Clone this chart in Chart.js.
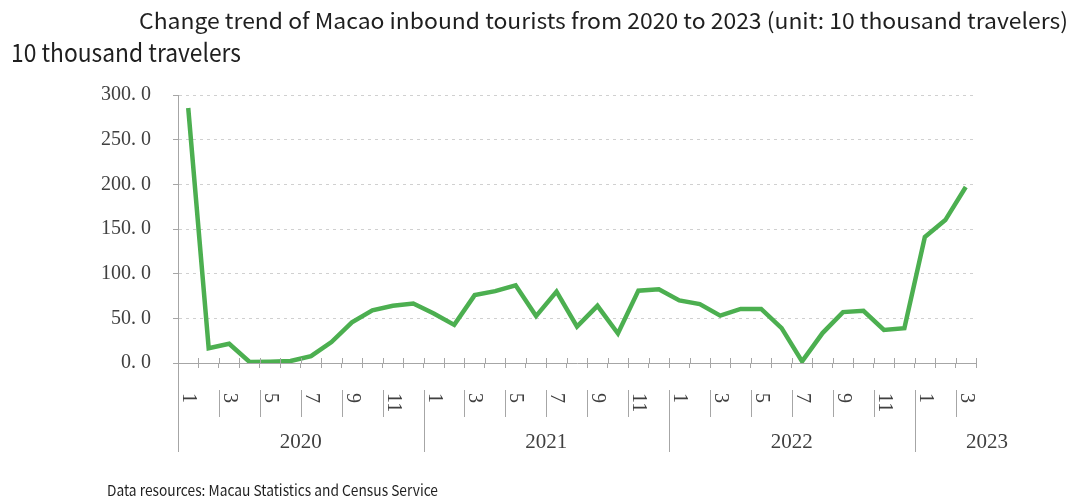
<!DOCTYPE html>
<html>
<head>
<meta charset="utf-8">
<script src="https://cdn.jsdelivr.net/npm/chart.js@4.4.0/dist/chart.umd.min.js"></script>
<style>
html,body{margin:0;padding:0;background:#fff;}
#wrap{position:relative;width:1075px;height:499px;overflow:hidden;background:#fff;}
#c{position:absolute;left:0;top:0;}
.t{position:absolute;left:0;top:0;white-space:nowrap;line-height:1.2;color:#1f1f1f;font-family:"Noto Sans CJK SC","Noto Sans",sans-serif;transform-origin:0 0;}
.m{display:inline-block;width:0;height:0;vertical-align:baseline;}
</style>
</head>
<body>
<div id="wrap">
<canvas id="c" width="1075" height="499"></canvas>
<div class="t" id="title">Change trend of Macao inbound tourists from 2020 to 2023 (unit: 10 thousand travelers)<span class="m"></span></div>
<div class="t" id="unit">10 thousand travelers<span class="m"></span></div>
<div class="t" id="src">Data resources: Macau Statistics and Census Service<span class="m"></span></div>
</div>
<script>
// ---- data ----
const yearLabels = ['2020', '2021', '2022', '2023'];
const monthsInYear = [12, 12, 12, 3];
const monthLabels = [
  '1','2','3','4','5','6','7','8','9','10','11','12',
  '1','2','3','4','5','6','7','8','9','10','11','12',
  '1','2','3','4','5','6','7','8','9','10','11','12',
  '1','2','3'
];
const visitors = [
  285.5, 16.5, 21.5, 1.1, 1.5, 2.2, 7.6, 23.5, 45.5, 59.0, 64.0, 66.5,
  55.5, 42.7, 76.0, 80.5, 87.0, 52.5, 80.0, 40.8, 64.0, 33.0, 81.0, 82.5,
  70.0, 66.0, 53.0, 60.5, 60.5, 39.0, 1.8, 33.5, 57.0, 58.5, 37.0, 39.0,
  141.0, 160.0, 197.0
];
const yTicks = [0, 50, 100, 150, 200, 250, 300];

// ---- html text placement ----
function place(id, left, baseline, width, size) {
  const el = document.getElementById(id);
  el.style.fontSize = size + 'px';
  const m = el.querySelector('.m');
  const w = el.getBoundingClientRect().width;
  const off = m.offsetTop;
  el.style.left = left + 'px';
  el.style.top = (baseline - off) + 'px';
  el.style.transform = 'scaleX(' + (width / w) + ')';
}
place('title', 139, 29, 929, 22);
place('unit', 11, 62, 230, 25);
place('src', 107, 496, 331, 15);

// ---- decorations for the two-level category axis ----
const AXIS = '#a6a6a6';
const LABEL = '#404040';
const decor = {
  id: 'decor',
  afterDraw(chart) {
    const { ctx, chartArea: a, scales: { x } } = chart;
    const step = x.getPixelForValue(1) - x.getPixelForValue(0);
    const b = a.bottom;
    const ln = (x0, y0, x1, y1) => {
      ctx.beginPath();
      ctx.moveTo(Math.round(x0) + 0.5, y0);
      ctx.lineTo(Math.round(x1) + 0.5, y1);
      ctx.stroke();
    };
    ctx.save();
    ctx.strokeStyle = AXIS;
    ctx.lineWidth = 1;
    ln(a.left, b, a.left, b + 89);
    // small tick marks crossing above the axis at category boundaries
    for (let i = 0; i <= monthLabels.length; i++) {
      const bx = x.getPixelForValue(0) - step / 2 + i * step;
      ln(bx, b - 5, bx, b);
    }
    // month labels (rotated, odd months) and separators
    ctx.fillStyle = LABEL;
    ctx.font = '20px "Liberation Serif", serif';
    monthLabels.forEach((lab, i) => {
      if (parseInt(lab, 10) % 2 === 0) return;
      const cx = x.getPixelForValue(i);
      if (lab !== '1') ln(cx - step / 2, b + 27, cx - step / 2, b + 54);
      ctx.save();
      ctx.translate(cx, b + 30);
      ctx.rotate(Math.PI / 2);
      ctx.textAlign = 'left';
      ctx.textBaseline = 'middle';
      ctx.fillText(lab, 0, 0);
      ctx.restore();
    });
    // year groups
    ctx.font = '21px "Liberation Serif", serif';
    ctx.textAlign = 'center';
    ctx.textBaseline = 'alphabetic';
    let idx = 0;
    yearLabels.forEach((yr, g) => {
      const n = monthsInYear[g];
      const x0 = x.getPixelForValue(idx) - step / 2;
      const x1 = x.getPixelForValue(idx + n - 1) + step / 2;
      if (g > 0) ln(x0, b + 27, x0, b + 89);
      const tx = n < 12 ? x1 + 11 : (x0 + x1) / 2;
      ctx.fillText(yr, tx, b + 85);
      idx += n;
    });
    ctx.restore();
  }
};

new Chart(document.getElementById('c'), {
  type: 'line',
  data: {
    labels: monthLabels,
    datasets: [{
      data: visitors,
      borderColor: '#4caf50',
      borderWidth: 4.5,
      pointRadius: 0,
      tension: 0,
      fill: false
    }]
  },
  options: {
    responsive: false,
    animation: false,
    devicePixelRatio: 1,
    layout: { padding: { left: 0, right: 99, top: 95, bottom: 131 } },
    plugins: { legend: { display: false }, tooltip: { enabled: false }, title: { display: false } },
    scales: {
      x: {
        type: 'category',
        offset: true,
        grid: { display: true, drawOnChartArea: false, drawTicks: true, tickLength: 5, offset: true, color: AXIS, tickColor: AXIS },
        border: { display: true, color: AXIS, width: 1 },
        ticks: { display: false }
      },
      y: {
        min: 0,
        max: 300,
        afterFit(s) { s.width = 178; },
        afterBuildTicks(s) { s.ticks = yTicks.map(v => ({ value: v })); },
        grid: { color: '#d0d0d0', lineWidth: 1, tickLength: 5, tickColor: AXIS },
        border: { display: true, color: AXIS, width: 1, dash: [3, 4] },
        ticks: {
          padding: 22,
          color: LABEL,
          font: { family: '"Liberation Serif", serif', size: 20 },
          callback: v => v.toFixed(1).replace('.', '. ')
        }
      }
    }
  },
  plugins: [decor]
});
</script>
</body>
</html>
